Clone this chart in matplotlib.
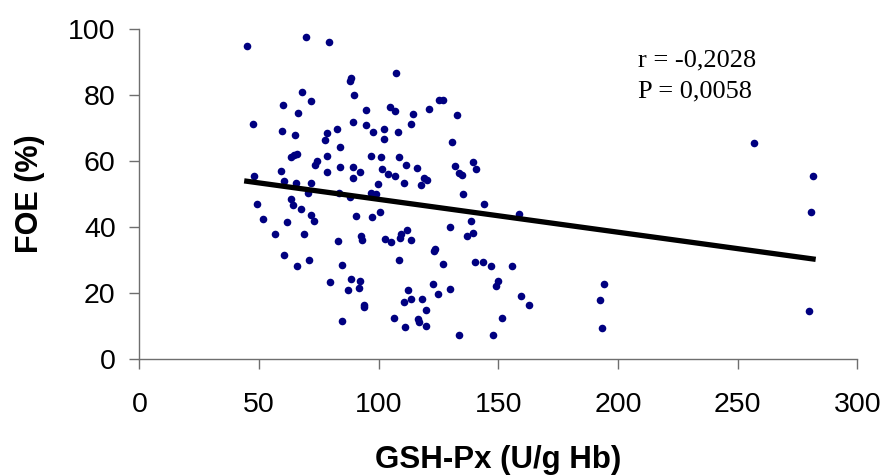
import matplotlib.pyplot as plt
import numpy as np

plt.rcParams['font.family'] = 'Liberation Sans'

# GSH-Px (U/g Hb) vs FOE (%)
gsh_px = [44.9, 47.6, 48.0, 49.0, 51.6, 56.5, 59.1, 59.6, 60.1, 60.3,
          60.6, 61.5, 63.2, 63.4, 64.3, 64.8, 65.1, 65.3, 65.8, 66.0,
          66.5, 67.4, 67.9, 68.6, 69.6, 70.5, 71.0, 71.7, 71.9, 71.9,
          72.9, 73.3, 74.3, 77.4, 78.3, 78.3, 78.5, 79.3, 79.7, 82.6,
          83.0, 83.5, 83.7, 83.7, 84.5, 84.7, 87.3, 88.0, 88.2, 88.5,
          88.5, 89.2, 89.4, 89.4, 89.7, 90.6, 91.8, 92.0, 92.3, 92.5,
          93.2, 93.7, 93.9, 94.6, 94.9, 96.8, 97.0, 97.2, 97.5, 98.9,
          99.8, 100.5, 101.0, 101.3, 102.4, 102.4, 102.7, 104.1, 104.6, 105.0,
          106.5, 106.7, 106.9, 107.2, 107.9, 108.4, 108.6, 108.8, 109.3, 110.5,
          110.7, 111.2, 111.4, 111.9, 112.4, 113.3, 113.6, 113.6, 114.5, 115.9,
          116.6, 116.9, 117.8, 118.1, 118.8, 119.7, 119.9, 120.2, 120.9, 122.5,
          123.0, 123.7, 124.7, 125.4, 126.8, 127.0, 129.6, 129.9, 130.8, 132.0,
          132.7, 133.4, 133.7, 134.8, 135.1, 136.7, 138.4, 139.3, 139.3, 140.1,
          140.8, 143.4, 144.1, 146.9, 147.6, 149.0, 149.8, 151.6, 155.9, 158.5,
          159.5, 162.8, 192.6, 193.5, 194.0, 256.7, 279.9, 280.6, 281.5]
foe = [94.8, 71.2, 55.4, 47.0, 42.4, 37.9, 57.0, 69.1, 77.1, 54.1,
       31.5, 41.5, 61.2, 48.6, 46.7, 62.0, 67.9, 53.4, 62.1, 28.1,
       74.5, 45.4, 81.1, 37.8, 97.7, 50.5, 29.9, 53.4, 78.3, 43.8,
       41.9, 58.9, 60.1, 66.4, 68.4, 56.8, 61.6, 96.1, 23.4, 69.9,
       35.8, 50.4, 64.2, 58.3, 28.4, 11.4, 21.0, 49.1, 84.2, 85.1,
       24.3, 72.0, 58.1, 54.9, 80.1, 43.4, 21.5, 23.6, 56.8, 37.2,
       36.0, 15.9, 16.5, 71.0, 75.6, 61.7, 50.4, 43.0, 69.0, 50.1,
       53.1, 44.6, 61.3, 57.6, 66.8, 69.9, 36.5, 56.1, 76.3, 35.4,
       12.5, 55.6, 75.1, 86.6, 68.8, 30.1, 61.2, 36.8, 37.8, 17.4,
       53.5, 9.8, 58.8, 39.0, 20.8, 36.0, 18.2, 71.3, 74.2, 57.8,
       12.1, 11.3, 52.9, 18.1, 54.9, 10.0, 14.8, 54.4, 75.7, 22.7,
       32.9, 33.4, 19.7, 78.5, 78.7, 28.8, 21.3, 39.9, 65.9, 58.5,
       73.9, 7.3, 56.5, 55.7, 50.2, 37.2, 41.8, 59.9, 38.3, 29.3,
       57.5, 29.3, 46.9, 28.2, 7.3, 22.2, 23.7, 12.5, 28.1, 44.1,
       19.2, 16.3, 17.9, 9.5, 22.6, 65.5, 14.7, 44.7, 55.5]
# linear trend as printed in the source chart
trend_slope = -0.0997
trend_intercept = 58.4
x_ticks = [0, 50, 100, 150, 200, 250, 300]
y_ticks = [0, 20, 40, 60, 80, 100]

x = np.array(gsh_px)
y = np.array(foe)
fit_x = np.array([x.min(), x.max()])

fig = plt.figure(figsize=(8.88, 4.76), dpi=100)
ax = fig.add_axes([0.1569, 0.2458, 0.8086, 0.6926])

ax.scatter(x, y, s=30, color='#000080', linewidths=0, zorder=3)
ax.plot(fit_x, trend_slope * fit_x + trend_intercept, color='black',
        linewidth=3.8, zorder=4)

ax.set_xlim(0, 300)
ax.set_ylim(0, 100)
ax.set_xticks(x_ticks)
ax.set_yticks(y_ticks)

for side in ['top', 'right']:
    ax.spines[side].set_visible(False)
for side in ['left', 'bottom']:
    ax.spines[side].set_color('#6e6e6e')
    ax.spines[side].set_linewidth(1.0)

ax.tick_params(axis='both', direction='out', length=7, width=1.0, color='#6e6e6e',
               labelsize=20.5)
ax.tick_params(axis='x', pad=17)
ax.tick_params(axis='y', pad=10)

ax.set_xlabel('GSH-Px (U/g Hb)', fontsize=22.5, fontweight='bold', labelpad=19)
ax.set_ylabel('FOE (%)', fontsize=22, fontweight='bold', labelpad=17)

fig.text(638 / 888, 1 - 66.7 / 476, 'r = -0,2028', fontsize=19,
         family='Liberation Serif', va='baseline', ha='left')
fig.text(638 / 888, 1 - 97.3 / 476, 'P = 0,0058', fontsize=19,
         family='Liberation Serif', va='baseline', ha='left')

fig.savefig('out.png', dpi=100)
